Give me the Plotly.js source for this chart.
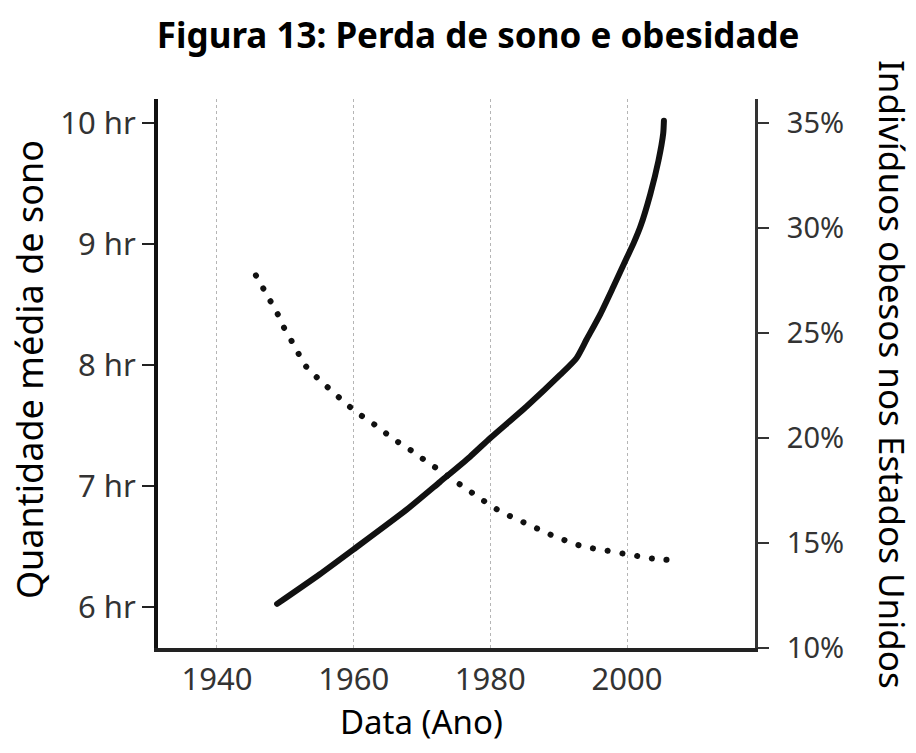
<!DOCTYPE html>
<html>
<head>
<meta charset="utf-8">
<script src="https://cdn.plot.ly/plotly-3.0.1.min.js"></script>
<style>
html,body{margin:0;padding:0;background:#fff;}
#chart{width:916px;height:753px;}
.scatterlayer .trace:first-child path.js-line{stroke-linecap:round !important;}
</style>
</head>
<body>
<div id="chart"></div>
<script>
// Sleep (hours) — dotted line, left axis
const sleepYears = [1945.7, 1946.8, 1947.8, 1948.8, 1949.7, 1950.7, 1951.7, 1952.7, 1954.2, 1955.7,
  1957.3, 1958.9, 1960.4, 1962.2, 1964.0, 1965.7, 1967.5, 1969.2, 1971.0, 1972.8, 1974.6, 1976.4,
  1978.2, 1980.0, 1981.8, 1983.7, 1985.6, 1987.6, 1989.5, 1991.5, 1993.5, 1995.5, 1997.6, 1999.6,
  2001.7, 2003.8, 2005.8];
const sleepHours = [8.74, 8.63, 8.53, 8.43, 8.32, 8.22, 8.12, 8.01, 7.92, 7.84,
  7.76, 7.68, 7.61, 7.54, 7.47, 7.39, 7.33, 7.26, 7.19, 7.12, 7.05, 6.98,
  6.91, 6.84, 6.78, 6.73, 6.68, 6.63, 6.58, 6.54, 6.50, 6.48, 6.46, 6.44,
  6.42, 6.40, 6.39];

// Obesity (%) — solid line, right axis
const obesityYears = [1948.8, 1955.0, 1960.0, 1967.8, 1972.6, 1977.0, 1980.0, 1985.3, 1990.2, 1992.6,
  1994.1, 1996.1, 1998.0, 2000.0, 2001.0, 2002.0, 2003.4, 2004.6, 2005.3, 2005.4];
const obesityPct = [12.1, 13.5, 14.7, 16.6, 17.9, 19.1, 20.0, 21.5, 23.0, 23.8,
  24.7, 25.9, 27.2, 28.6, 29.3, 30.1, 31.6, 33.2, 34.5, 35.1];

const xTicks = [1940, 1960, 1980, 2000];
const xTickText = ['1940', '1960', '1980', '2000'];
const sleepTicks = [6, 7, 8, 9, 10];
const sleepTickText = ['6 hr', '7 hr', '8 hr', '9 hr', '10 hr'];
const obesityTicks = [10, 15, 20, 25, 30, 35];
const obesityTickText = ['10%', '15%', '20%', '25%', '30%', '35%'];

const FONT = 'Noto Sans, Open Sans, sans-serif';

const traces = [
  {x: sleepYears, y: sleepHours, yaxis: 'y', mode: 'lines', type: 'scatter',
   line: {color: '#111', width: 6, dash: '0.1px,14.8px', shape: 'spline', smoothing: 0.6},
   hoverinfo: 'skip', showlegend: false},
  {x: obesityYears, y: obesityPct, yaxis: 'y2', mode: 'lines', type: 'scatter',
   line: {color: '#111', width: 6, shape: 'spline', smoothing: 0.6},
   hoverinfo: 'skip', showlegend: false}
];

const layout = {
  width: 916, height: 753,
  margin: {l: 158, r: 161, t: 99, b: 105, pad: 0},
  paper_bgcolor: '#fff', plot_bgcolor: '#fff',
  showlegend: false,
  title: {text: '<b>Figura 13: Perda de sono e obesidade</b>', font: {family: FONT, size: 35, color: '#000'},
          xref: 'container', x: 0.522, xanchor: 'center', yref: 'container', y: 1 - 36/753, yanchor: 'middle'},
  xaxis: {range: [1931.37, 2018.73], tickmode: 'array', tickvals: xTicks, ticktext: xTickText, ticks: '', showgrid: true,
          gridcolor: '#b5b5b5', gridwidth: 1, griddash: '3px,3px', zeroline: false,
          showline: true, linecolor: '#222', linewidth: 4, mirror: false,
          tickfont: {family: FONT, size: 31, color: '#333'}, ticklabelstandoff: 1},
  yaxis: {range: [5.661, 10.198], tickmode: 'array', tickvals: sleepTicks, ticktext: sleepTickText,
          ticks: 'outside', ticklen: 12,
          tickwidth: 2, tickcolor: '#222', showgrid: false, zeroline: false,
          showline: true, linecolor: '#111', linewidth: 4,
          tickfont: {family: FONT, size: 31, color: '#333'}},
  yaxis2: {range: [10, 36.14], overlaying: 'y', side: 'right', anchor: 'x', tickmode: 'array', tickvals: obesityTicks,
           ticktext: obesityTickText, ticklabelposition: 'outside',
           ticks: 'outside', ticklen: 11, tickwidth: 2, tickcolor: '#333', showgrid: false, zeroline: false,
           showline: true, linecolor: '#333', linewidth: 3, ticklabelstandoff: 12,
           tickfont: {family: FONT, size: 29, color: '#333'}},
  annotations: [
    {text: 'Data (Ano)', xref: 'x', x: 1970, yref: 'paper', y: -(721 - 648) / 549, yanchor: 'middle',
     xanchor: 'center', showarrow: false, font: {family: FONT, size: 33, color: '#000'}},
    {text: 'Quantidade média de sono', xref: 'paper', x: (29 - 158) / 597, yref: 'paper', y: (648 - 370) / 549,
     xanchor: 'center', yanchor: 'middle', textangle: -90, showarrow: false,
     font: {family: FONT, size: 36, color: '#000'}},
    {text: 'Indivíduos obesos nos Estados Unidos', xref: 'paper', x: (893 - 158) / 597, yref: 'paper',
     y: (648 - 375) / 549, xanchor: 'center', yanchor: 'middle', textangle: 90, showarrow: false,
     font: {family: FONT, size: 35, color: '#000'}}
  ]
};

Plotly.newPlot('chart', traces, layout, {staticPlot: true, displayModeBar: false});
</script>
</body>
</html>
